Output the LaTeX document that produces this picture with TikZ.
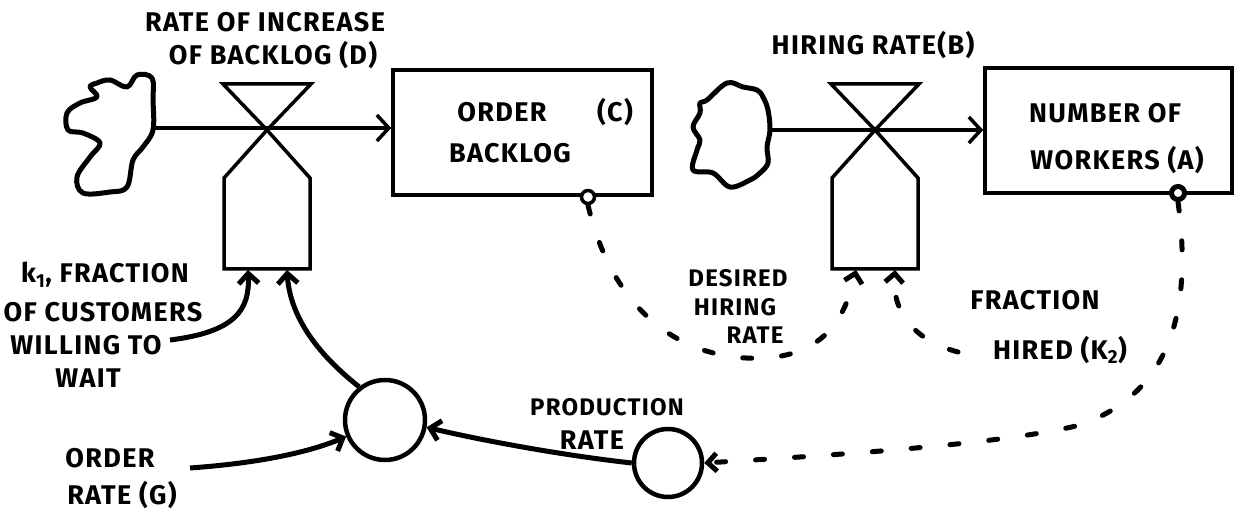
\documentclass[tikz,border=0pt]{standalone}
\usepackage{fontspec}
\setmainfont{Fira Sans}
\newfontfamily\handfont[LetterSpace=5]{Fira Sans}
\usetikzlibrary{arrows.meta}
\begin{document}
\begin{tikzpicture}[x=1pt,y=-1pt,
  lbl/.style={font=\handfont\fontsize{27}{30}\selectfont\bfseries, inner sep=0pt},
  small/.style={font=\handfont\fontsize{24}{28}\selectfont\bfseries},
  stock/.style={draw, line width=3.5pt, inner sep=0pt},
  aux/.style={circle, draw, line width=4.5pt, inner sep=0pt},
  tap/.style={circle, draw, line width=3.5pt, minimum size=13pt, inner sep=0pt, fill=white},
  flowline/.style={line width=3.5pt, -{Straight Barb[length=12pt,width=26pt]}},
  infoarrow/.style={line width=5pt, -{Straight Barb[length=10pt,width=20pt]}},
  dashlink/.style={line width=5pt, line cap=round, dash pattern=on 9pt off 30pt,
    -{Straight Barb[length=9pt,width=18pt]}},
  cloudline/.style={line width=5pt, line join=round},
  valve/.pic={
    \draw[line width=3.5pt, line join=miter] (-44,-46) -- (44,-46) -- (0,0) -- cycle;
    \draw[line width=3.5pt, line join=miter] (0,0) -- (-43,48) -- (-43,139) -- (43,139) -- (43,48) -- cycle;
    \coordinate (-inl) at (-19,140);
    \coordinate (-inr) at (20,140);
  }]
\useasboundingbox (0,0) rectangle (1241,518);

% clouds (sources)
\draw[cloudline] plot[smooth cycle, tension=0.6] coordinates {
  (97,83) (110,80) (127,87) (137,75) (152,78) (153,100) (153,130) (143,147)
  (133,160) (127,187) (110,192) (83,193) (77,177) (90,157) (100,143) (83,133)
  (68,130) (67,113) (80,103) (97,97) (90,87)};
\coordinate (src1) at (153,128);
\draw[cloudline] plot[smooth cycle, tension=0.6] coordinates {
  (707,100) (727,83) (743,87) (757,90) (763,97) (768,110) (770,130) (767,147)
  (768,163) (760,173) (750,180) (730,187) (713,173) (693,170) (697,150)
  (700,140) (693,127) (700,113) (700,103)};
\coordinate (src2) at (770,130);

% stocks
\node[stock, minimum width=259pt, minimum height=125pt] (backlog) at (522.5,132.5) {};
\node[stock, minimum width=247pt, minimum height=125pt] (workers) at (1108.5,130.5) {};
\node[lbl] (tOrder) at (502,112) {ORDER};
\node[lbl] (tC) at (615,112) {(C)};
\node[lbl] (tBacklog) at (510,153) {BACKLOG};
\node[lbl] (tNumber) at (1105,113) {NUMBER OF};
\node[lbl] (tWorkers) at (1117,160) {WORKERS (A)};

% flows with valves
\draw[flowline] (src1) -- (src1 -| backlog.west);
\draw[flowline] (src2) -- (src2 -| workers.west);
\pic (v1) at (267,130) {valve};
\pic (v2) at (875,130) {valve};

% rate labels
\node[lbl] (tRate1) at (265,22) {RATE OF INCREASE};
\node[lbl] (tRate2) at (273,55) {OF BACKLOG (D)};
\node[lbl] (tHiring) at (873,45) {HIRING RATE(B)};

% auxiliaries
\node[aux, minimum size=80pt] (ordnet) at (385,420) {};
\node[aux, minimum size=68pt] (prod) at (668,463) {};
\node[lbl, small] (tProd1) at (607,407) {PRODUCTION};
\node[lbl] (tProd2) at (592,440) {RATE};

% constant k1
\node[lbl] (tK1) at (105,275) {k\textsubscript{1}, FRACTION};
\node[lbl] (tK2) at (103,312) {OF CUSTOMERS};
\node[lbl] (tK3) at (86,345) {WILLING TO};
\node[lbl] (tK4) at (88,378) {WAIT};
\coordinate (k1) at (170,340);

% order rate
\node[lbl] (tOR1) at (110,458) {ORDER};
\node[lbl] (tOR2) at (122,495) {RATE (G)};
\coordinate (orate) at (190,468);

% desired hiring rate and fraction hired
\node[lbl, small] (tD1) at (738,278) {DESIRED};
\node[lbl, small] (tD2) at (735,307) {HIRING};
\node[lbl, small] (tD3) at (755,335) {RATE};
\node[lbl] (tF1) at (1035,300) {FRACTION};
\node[lbl] (tF2) at (1060,350) {HIRED (K\textsubscript{2})};
\coordinate (k2) at (958,352);

% information taps on the stocks
\node[tap] (tap1) at (588,197) {};
\node[tap, line width=5pt] (tap2) at (1178,193) {};

% solid information links
\draw[infoarrow] (k1) .. controls (235,332) and (250,310) .. (v1-inl);
\draw[infoarrow] (ordnet.128) .. controls (315,352) and (290,315) .. (v1-inr);
\draw[infoarrow] (orate) .. controls (260,463) and (310,452) .. (ordnet.203);
\draw[infoarrow] (prod.west) .. controls (560,455) and (480,440) .. (ordnet.-10);

% dashed information links
\draw[dashlink] (tap1.south) .. controls (615,320) and (690,362) .. (765,358)
  .. controls (830,354) and (847,310) .. (v2-inl);
\draw[dashlink] (k2) .. controls (912,340) and (892,310) .. (v2-inr);
\draw[dashlink] (tap2.south) .. controls (1194,320) and (1165,395) .. (1080,425)
  .. controls (1000,445) and (820,456) .. (prod.east);
\end{tikzpicture}
\end{document}
